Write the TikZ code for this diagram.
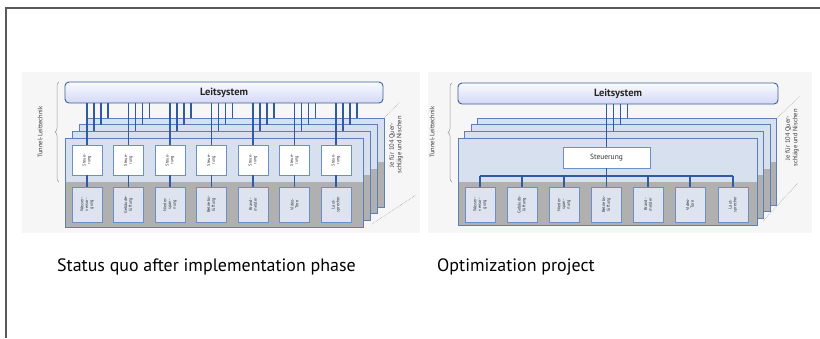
\documentclass[tikz,border=0pt]{standalone}
\usepackage{fontspec}
\setmainfont{PT Sans}
\usetikzlibrary{decorations.pathreplacing}
\definecolor{bordgray}{HTML}{5A5A5A}
\definecolor{facelb}{HTML}{D7E0EE}
\definecolor{facegr}{HTML}{B0B0B0}
\definecolor{edgeb}{HTML}{5C7FBA}
\definecolor{connb}{HTML}{2E5C9E}
\definecolor{boxb}{HTML}{6E8FC6}
\definecolor{boxfill}{HTML}{DDE4F0}
\definecolor{leitb}{HTML}{3C5F98}
\definecolor{bgfaint}{HTML}{F6F6F6}
\definecolor{labgray}{HTML}{3A3A3A}
\tikzset{
  leit/.style={draw=leitb, line width=0.9bp, rounded corners=4bp, top color=white!85!facelb, bottom color=facelb!85!blue!60!white,
    minimum height=21bp, inner sep=0pt, font=\fontsize{10.5}{11}\selectfont\bfseries, text=black!85},
  stbox/.style={draw=boxb, line width=0.7bp, fill=white, minimum width=30bp, minimum height=30bp, inner sep=0pt},
  fbox/.style={draw=boxb, line width=0.7bp, fill=boxfill, minimum width=30bp, minimum height=35bp, inner sep=0pt},
  tinytxt/.style={font=\fontsize{4.4}{4.8}\selectfont, align=center, rotate=90, text=black!80, inner sep=0pt},
  conn/.style={draw=connb, line width=1.1bp},
  sidelab/.style={font=\fontsize{6.5}{7.4}\selectfont, align=center, rotate=90, text=labgray, inner sep=0pt},
  caption/.style={font=\fontsize{18}{21}\selectfont, anchor=base west, inner sep=0pt, text=black},
  depth/.style={draw=black!35, line width=0.6bp, densely dotted},
  bracestyle/.style={draw=black!40, line width=0.5bp, decorate, decoration={brace, amplitude=4bp}},
  layerface/.style={fill=facelb},
  layerbase/.style={fill=facegr},
  layeredge/.style={draw=edgeb, line width=0.8bp}
}
\begin{document}
\begin{tikzpicture}[x=1bp, y=-1bp]
\useasboundingbox (0,0) rectangle (820,338);
\fill[white] (0,0) rectangle (820,338);
% frame
\draw[bordgray, line width=1.6bp] (6,338) -- (6,8) -- (820,8);
% faint backgrounds
\fill[bgfaint] (22,72) rectangle (420,233);
\fill[bgfaint] (428,72) rectangle (812,233);

% ================= LEFT DIAGRAM =================
\foreach \k in {3,2,1,0}{
  \pgfmathsetmacro{\dx}{7*\k}
  \pgfmathsetmacro{\dy}{-6.7*\k}
  \begin{scope}[shift={(\dx,\dy)}]
    \fill[layerface] (65,138) rectangle (363,182);
    \fill[layerbase] (65,182) rectangle (363,227);
    \draw[layeredge] (65,138) rectangle (363,227);
  \end{scope}
}
\node[leit, minimum width=318bp] (L1) at (224,92.5) {Leitsystem};
\foreach \i/\c/\lab in {1/87/{Wasser-\\versor-\\gung},2/128.5/{Gebäude-\\lüftung},3/170/{Nieder-\\span-\\nung},4/211.5/{Betriebs-\\lüftung},5/253/{Brand-\\melder},6/294.5/{Video-\\Tore},7/336/{Laut-\\sprecher}}{
  \node[stbox] (s\i) at (\c,160) {};
  \node[tinytxt] (st\i) at (s\i.center) {Steue-\\rung};
  \node[fbox] (f\i) at (\c,204.5) {};
  \node[tinytxt] (ft\i) at (f\i.center) {\lab};
  \draw[conn] (s\i.north |- L1.south) -- (s\i.north);
  \draw[conn] (s\i.south) -- (f\i.north);
  \foreach \k in {1,2,3}{
    \pgfmathsetmacro{\xx}{\c+7*\k}
    \pgfmathsetmacro{\yy}{138-6.7*\k}
    \coordinate (t\i-\k) at (\xx,\yy);
    \draw[conn] (t\i-\k |- L1.south) -- (t\i-\k);
  }
}
\draw[bracestyle] (59,182) -- (59,82);
\node[sidelab] (tl1) at (40,132) {Tunnel-Leittechnik};
\node[sidelab] (jf1) at (396,145) {Je für 104 Quer-\\schläge und Nischen};
\coordinate (d1a) at (384,118);
\coordinate (d1b) at (400,102);
\coordinate (d1c) at (372,224);
\coordinate (d1d) at (416,195);
\draw[depth] (d1a) -- (d1b);
\draw[depth] (d1c) -- (d1d);
\node[caption] (cap1) at (57,271) {Status quo after implementation phase};

% ================= RIGHT DIAGRAM =================
\foreach \k in {3,2,1,0}{
  \pgfmathsetmacro{\dx}{6.5*\k}
  \pgfmathsetmacro{\dy}{-6.7*\k}
  \begin{scope}[shift={(\dx,\dy)}]
    \fill[layerface] (458,138) rectangle (757,182);
    \fill[layerbase] (458,182) rectangle (757,225);
    \draw[layeredge] (458,138) rectangle (757,225);
  \end{scope}
}
\node[leit, minimum width=320bp] (L2) at (618,93.5) {Leitsystem};
\node[stbox, minimum width=87bp, minimum height=21bp, font=\fontsize{7.5}{8}\selectfont, text=black!80] (S) at (606.5,157.5) {Steuerung};
\draw[conn] (S.north |- L2.south) -- (S.north);
\foreach \k in {1,2,3}{
  \pgfmathsetmacro{\xx}{606.5+7*\k}
  \pgfmathsetmacro{\yy}{138-6.7*\k}
  \coordinate (u\k) at (\xx,\yy);
  \draw[conn] (u\k |- L2.south) -- (u\k);
}
\coordinate (busL) at (480,176);
\coordinate (busR) at (733,176);
\draw[conn] (busL) -- (busR);
\draw[conn] (S.south) -- (S.south |- busL);
\foreach \i/\c/\lab in {1/480/{Wasser-\\versor-\\gung},2/522/{Gebäude-\\lüftung},3/564/{Nieder-\\span-\\nung},4/606.5/{Betriebs-\\lüftung},5/648/{Brand-\\melder},6/690/{Video-\\Tore},7/733/{Laut-\\sprecher}}{
  \node[fbox] (r\i) at (\c,204.5) {};
  \node[tinytxt] (rt\i) at (r\i.center) {\lab};
  \draw[conn] (r\i.north |- busL) -- (r\i.north);
}
\draw[bracestyle] (452,182) -- (452,83);
\node[sidelab] (tl2) at (432,132) {Tunnel-Leittechnik};
\node[sidelab] (jf2) at (792,138) {Je für 104 Quer-\\schläge und Nischen};
\coordinate (d2a) at (777,118);
\coordinate (d2b) at (800,96);
\coordinate (d2c) at (763,221);
\coordinate (d2d) at (798,183);
\draw[depth] (d2a) -- (d2b);
\draw[depth] (d2c) -- (d2d);
\node[caption] (cap2) at (437,271) {Optimization project};
\end{tikzpicture}
\end{document}
